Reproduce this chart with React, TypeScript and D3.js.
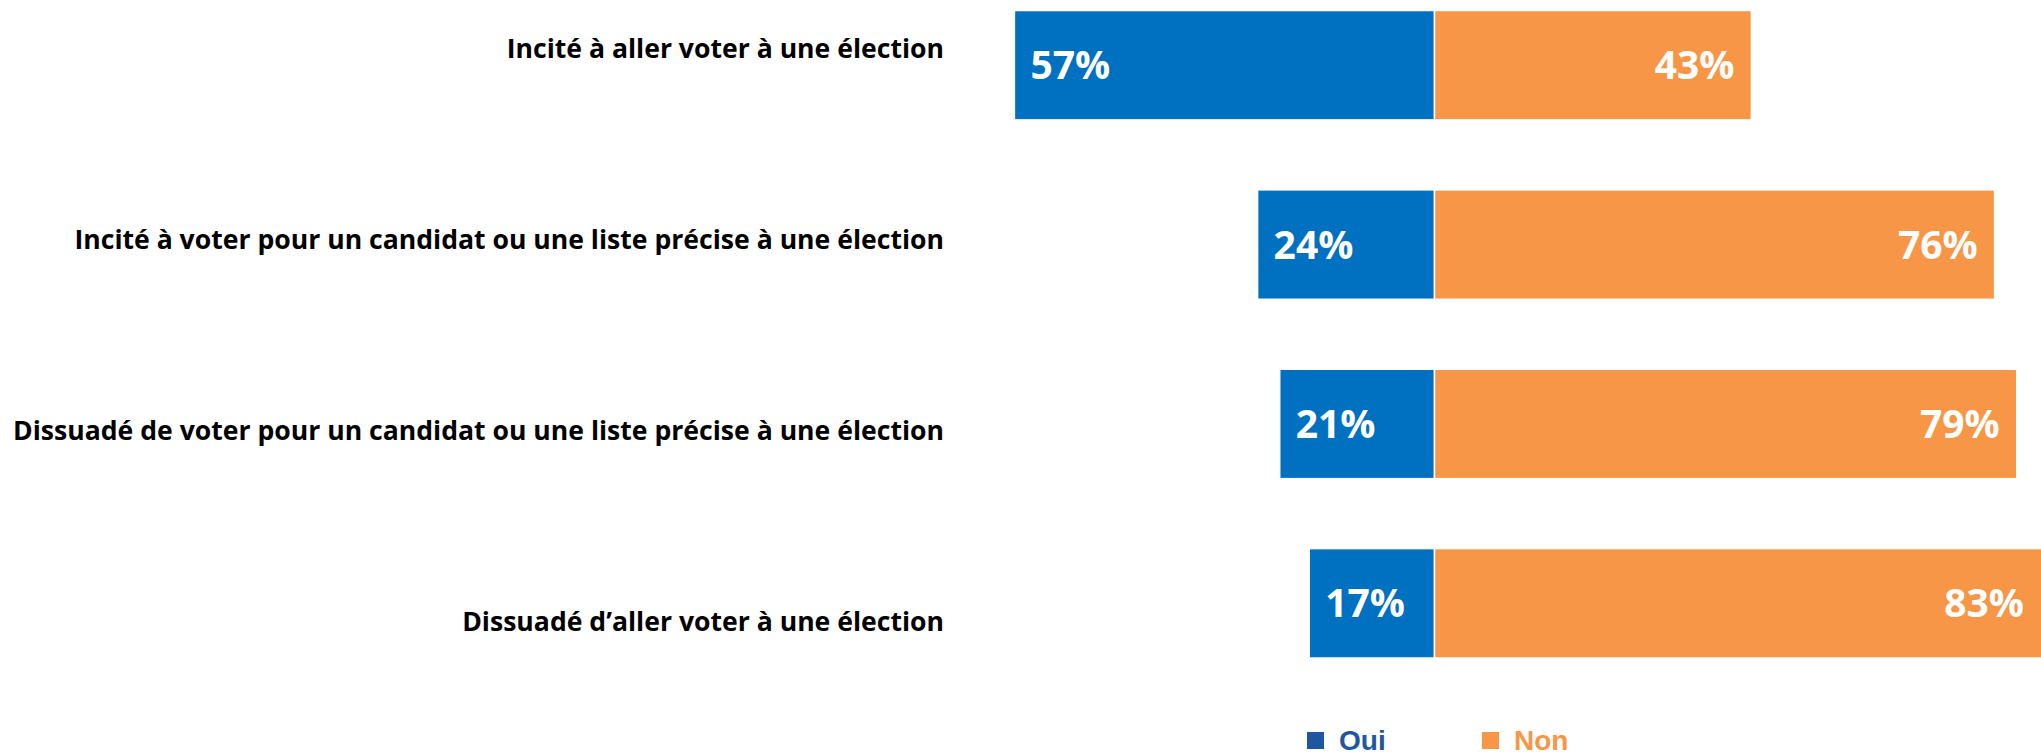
import { useEffect, useRef } from "react";
import * as d3 from "d3";

const categories = [
  "Incité à aller voter à une élection",
  "Incité à voter pour un candidat ou une liste précise à une élection",
  "Dissuadé de voter pour un candidat ou une liste précise à une élection",
  "Dissuadé d’aller voter à une élection",
];
const ouiValues = [57, 24, 21, 17];
const nonValues = [43, 76, 79, 83];
const seriesNames = ["Oui", "Non"];

const W = 2041;
const H = 756;
const BLUE = "#0070c0";
const ORANGE = "#f79646";
const LEGEND_BLUE = "#1f56a0";

export default function App() {
  const svgRef = useRef<SVGSVGElement>(null);

  useEffect(() => {
    if (!svgRef.current) return;
    const svg = d3.select(svgRef.current);
    svg.selectAll("*").remove();

    const center = 1434.5;
    const x = d3.scaleLinear().domain([0, 100]).range([0, 737]);
    const y = d3.scaleBand().domain(categories).range([10.5, 658]).paddingInner(0.39).paddingOuter(0);
    const labelY = d3.scalePoint().domain(categories).range([58, 631]);

    const rows = categories.map((c, i) => ({ c, oui: ouiValues[i], non: nonValues[i] }));

    // Oui bars (left of the centre)
    svg.selectAll(".oui").data(rows).enter().append("rect")
      .attr("x", (d) => center - x(d.oui))
      .attr("y", (d) => y(d.c) ?? 0)
      .attr("width", (d) => x(d.oui))
      .attr("height", y.bandwidth())
      .attr("fill", BLUE).attr("stroke", "#fff").attr("stroke-width", 1.5);

    // Non bars (right of the centre)
    svg.selectAll(".non").data(rows).enter().append("rect")
      .attr("x", center)
      .attr("y", (d) => y(d.c) ?? 0)
      .attr("width", (d) => x(d.non))
      .attr("height", y.bandwidth())
      .attr("fill", ORANGE).attr("stroke", "#fff").attr("stroke-width", 1.5);

    const font = "'Open Sans', 'DejaVu Sans', sans-serif";

    svg.selectAll(".oui-lbl").data(rows).enter().append("text")
      .attr("x", (d) => center - x(d.oui) + 16)
      .attr("y", (d) => (y(d.c) ?? 0) + y.bandwidth() / 2 + 14)
      .attr("fill", "#fff").attr("font-size", 39).attr("font-weight", 700)
      .attr("font-family", font)
      .text((d) => `${d.oui}%`);

    svg.selectAll(".non-lbl").data(rows).enter().append("text")
      .attr("x", (d) => Math.min(center + x(d.non), W) - 17)
      .attr("y", (d) => (y(d.c) ?? 0) + y.bandwidth() / 2 + 14)
      .attr("text-anchor", "end")
      .attr("fill", "#fff").attr("font-size", 39).attr("font-weight", 700)
      .attr("font-family", font)
      .text((d) => `${d.non}%`);

    // Category labels, fitted so the longest one spans the original width
    const labels = svg.selectAll<SVGTextElement, (typeof rows)[0]>(".cat").data(rows).enter().append("text")
      .attr("x", 944)
      .attr("y", (d) => labelY(d.c) ?? 0)
      .attr("text-anchor", "end")
      .attr("fill", "#000").attr("font-size", 27.5).attr("font-weight", 700)
      .attr("font-family", font)
      .text((d) => d.c);

    const lengths = labels.nodes().map((n) => n.getComputedTextLength());
    const ratio = 931 / (d3.max(lengths) ?? 931);
    labels.each(function (_, i) {
      d3.select(this).attr("textLength", lengths[i] * ratio).attr("lengthAdjust", "spacingAndGlyphs");
    });

    // Legend
    const legend = [
      { name: seriesNames[0], color: LEGEND_BLUE, x: 1307 },
      { name: seriesNames[1], color: ORANGE, x: 1482 },
    ];
    const lg = svg.selectAll(".lg").data(legend).enter().append("g");
    lg.append("rect")
      .attr("x", (d) => d.x).attr("y", 732).attr("width", 17).attr("height", 17)
      .attr("fill", (d) => d.color);
    lg.append("text")
      .attr("x", (d) => d.x + 32).attr("y", 750)
      .attr("fill", (d) => d.color).attr("font-size", 28).attr("font-weight", 700)
      .attr("font-family", "'Liberation Sans', Arial, sans-serif")
      .text((d) => d.name);
  }, []);

  return (
    <svg
      ref={svgRef}
      width={W}
      height={H}
      style={{ position: "absolute", left: 0, top: 0, display: "block", background: "#fff" }}
    />
  );
}
